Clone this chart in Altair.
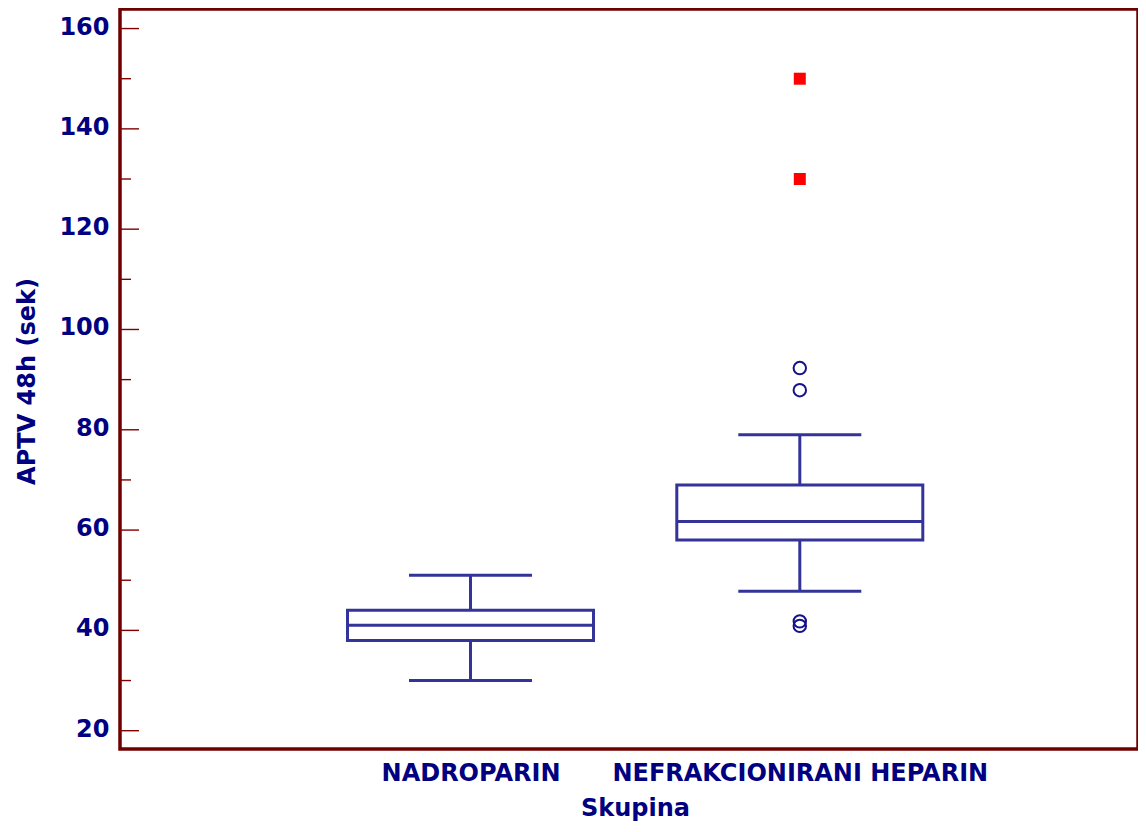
import altair as alt
import pandas as pd

# ---- data ----
groups = ["NADROPARIN", "NEFRAKCIONIRANI HEPARIN"]
lower_whisker = [30.0, 47.8]
q1 = [38.0, 58.0]
median = [41.0, 61.7]
q3 = [44.0, 69.0]
upper_whisker = [51.0, 79.0]

outlier_group = ["NEFRAKCIONIRANI HEPARIN"] * 4
outlier_value = [92.3, 87.9, 41.8, 40.9]

far_group = ["NEFRAKCIONIRANI HEPARIN"] * 2
far_value = [150.0, 130.0]

major_ticks = [20, 40, 60, 80, 100, 120, 140, 160]
minor_ticks = [30, 50, 70, 90, 110, 130, 150]

# ---- styling ----
FONT = "DejaVu Sans"
TEXT = "#000080"
BOX = "#333399"
FRAME = "#6e0000"

box_df = pd.DataFrame({
    "group": groups, "lo": lower_whisker, "q1": q1, "med": median,
    "q3": q3, "hi": upper_whisker,
})
out_df = pd.DataFrame({"group": outlier_group, "value": outlier_value})
far_df = pd.DataFrame({"group": far_group, "value": far_value})
major_df = pd.DataFrame({"v": major_ticks})
minor_df = pd.DataFrame({"v": minor_ticks})

yscale = alt.Scale(domain=[16.35, 163.9], nice=False, zero=False)
xscale = alt.Scale(type="point", domain=groups, range=[350.5, 679.8], padding=0)

x_axis = alt.Axis(
    title="Skupina", domain=False, ticks=False, tickSize=0, grid=False,
    labelAngle=0, labelPadding=12, labelLimit=1000,
    labelFont=FONT, labelFontWeight="bold", labelFontSize=24, labelColor=TEXT,
    titleFont=FONT, titleFontWeight="bold", titleFontSize=24, titleColor=TEXT,
    titleX=515, titleY=66.4, titleAlign="center", titleBaseline="alphabetic",
)
y_axis = alt.Axis(
    title="APTV 48h (sek)", values=major_ticks, format="d",
    domain=False, ticks=False, tickSize=0, grid=False,
    labelPadding=11, labelOffset=-1.5,
    labelFont=FONT, labelFontWeight="bold", labelFontSize=24, labelColor=TEXT,
    titleFont=FONT, titleFontWeight="bold", titleFontSize=24, titleColor=TEXT,
    titleAngle=270, titleX=-86, titleY=372, titleAlign="center",
    titleBaseline="alphabetic",
)

X = alt.X("group:N", scale=xscale, axis=x_axis, sort=groups)


def Y(field):
    return alt.Y(field, scale=yscale, axis=y_axis)


box = alt.Chart(box_df).mark_bar(
    size=246, fill="white", stroke=BOX, strokeWidth=3, opacity=1
).encode(x=X, y=Y("q1:Q"), y2="q3:Q")

med = alt.Chart(box_df).mark_tick(size=246, thickness=3, color=BOX, opacity=1).encode(
    x=X, y=Y("med:Q")
)
w_up = alt.Chart(box_df).mark_rule(strokeWidth=3, color=BOX).encode(
    x=X, y=Y("q3:Q"), y2="hi:Q"
)
w_lo = alt.Chart(box_df).mark_rule(strokeWidth=3, color=BOX).encode(
    x=X, y=Y("lo:Q"), y2="q1:Q"
)
cap_hi = alt.Chart(box_df).mark_tick(size=123, thickness=3, color=BOX, opacity=1).encode(
    x=X, y=Y("hi:Q")
)
cap_lo = alt.Chart(box_df).mark_tick(size=123, thickness=3, color=BOX, opacity=1).encode(
    x=X, y=Y("lo:Q")
)

outl = alt.Chart(out_df).mark_point(
    shape="circle", filled=False, size=155, strokeWidth=2, color="#141489", opacity=1
).encode(x=X, y=Y("value:Q"))

far = alt.Chart(far_df).mark_point(
    shape="square", filled=True, size=144, color="#ff0000", opacity=1
).encode(x=X, y=Y("value:Q"))

tick_major = alt.Chart(major_df).mark_rule(color="#800000", strokeWidth=1.4).encode(
    y=Y("v:Q"), x=alt.value(0), x2=alt.value(19)
)
tick_minor = alt.Chart(minor_df).mark_rule(color="#800000", strokeWidth=1.4).encode(
    y=Y("v:Q"), x=alt.value(0), x2=alt.value(11)
)

chart = alt.layer(
    box, med, w_up, w_lo, cap_hi, cap_lo, outl, far, tick_major, tick_minor
).properties(
    width=1018, height=740,
    autosize=alt.AutoSizeParams(type="none"),
    padding={"left": 112, "top": 1, "right": 0, "bottom": 75},
    background="white",
).configure_view(
    stroke=FRAME, strokeWidth=3.5
)

chart.save("out.html", embed_options={"renderer": "svg", "actions": False})
